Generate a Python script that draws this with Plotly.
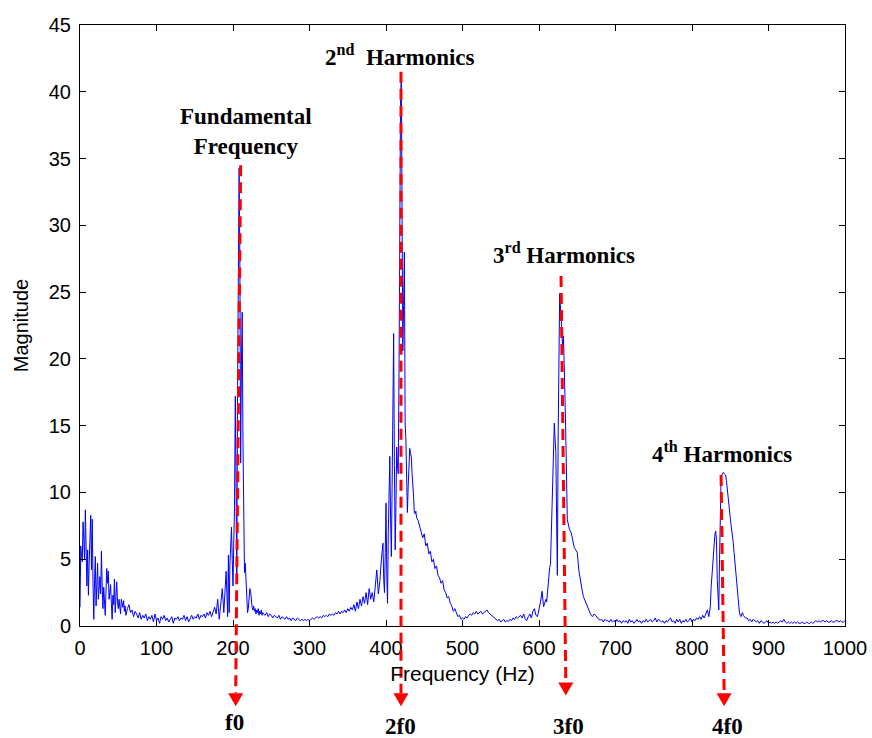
import plotly.graph_objects as go

# ---------------- data ----------------
# spectrum segments: (start frequency Hz, bin step Hz, magnitudes)
seg1_start, seg1_step = 0, 1
seg1_mag = [1.4, 6.0, 5.2, 4.8, 7.8, 5.6, 5.0, 8.7, 4.5, 3.0, 5.7, 2.3, 4.7, 6.5, 8.3, 4.2, 8.0, 3.2, 0.5, 3.4,
            5.2, 1.5, 2.6, 4.7, 2.0, 2.9, 3.7, 2.4, 5.6, 3.0, 1.3, 2.9, 1.9, 0.8, 2.6, 4.3, 3.2, 4.1, 2.0, 2.6,
            3.1, 1.7, 0.5, 2.3, 1.6, 3.5, 1.0, 2.2, 3.3, 1.8, 1.3, 2.0, 1.5, 0.9, 2.0, 1.6, 1.4, 1.9, 1.1, 1.5,
            0.8]
seg2_start, seg2_step = 62, 2
seg2_mag = [1.3, 1.6, 1.0, 1.2, 0.7, 1.1, 0.9, 0.6, 1.0, 0.5, 0.8, 0.6, 0.9, 0.4, 0.7, 0.5, 0.8, 0.3, 0.9, 0.4,
            0.6, 0.2, 0.7, 0.5, 0.8, 0.4, 0.6, 0.3, 0.5, 0.7, 0.2, 0.6, 0.5, 0.7, 0.4, 0.6, 0.5, 0.8, 0.4, 0.7,
            0.3, 0.6, 0.8, 0.5, 0.7, 0.6, 0.9, 0.5, 0.8, 0.7, 0.9, 0.6, 1.0, 0.8, 1.1, 0.7, 1.0, 1.4, 0.9, 2.0,
            0.5, 2.0, 2.8, 1.0, 2.9]
seg3_start, seg3_step = 191, 1
seg3_mag = [4.1, 2.5, 0.7, 5.3, 1.0, 4.7, 7.3, 7.4, 5.0, 3.0, 6.2, 9.0, 17.2, 8.0, 3.5, 18.0, 29.0, 34.3, 27.0, 12.2,
            19.5, 23.5, 14.0, 7.5, 4.0, 4.7, 3.0, 2.0, 1.0, 1.3, 2.2, 2.8, 2.6, 1.6, 1.4, 1.2, 1.5, 1.1, 1.3, 0.9,
            1.2, 1.0, 1.3, 0.8, 1.1, 0.9, 1.2, 0.8, 1.0, 0.9]
seg4_start, seg4_step = 242, 2
seg4_mag = [0.8, 1.0, 0.7, 0.9, 0.8, 0.6, 0.8, 0.7, 0.6, 0.8, 0.5, 0.7, 0.6, 0.5, 0.7, 0.5, 0.6, 0.4, 0.6, 0.5,
            0.4, 0.6, 0.5, 0.4, 0.5, 0.4, 0.5, 0.4, 0.5, 0.4, 0.5, 0.6, 0.5, 0.6, 0.7, 0.6, 0.7, 0.6, 0.8, 0.7,
            0.8, 0.7, 0.9, 0.8, 0.9, 0.8, 1.0, 0.9, 1.1, 0.9, 1.1, 1.0, 1.2, 1.0, 1.3, 1.1, 1.4, 1.2, 1.6, 1.1,
            1.8, 1.3, 2.0, 1.5, 2.2, 1.7, 2.5, 1.6, 2.8, 2.0, 2.5, 1.8, 3.0, 4.2, 2.4, 3.4, 5.0, 6.2]
seg5_start, seg5_step = 397, 1
seg5_mag = [3.5, 2.5, 5.5, 9.2, 4.0, 1.7, 7.0, 11.0, 12.7, 8.0, 5.2, 10.4, 16.0, 21.9, 12.0, 5.7, 9.0, 13.4, 12.0, 11.4,
            19.0, 31.0, 39.0, 41.3, 33.0, 20.6, 24.0, 28.0, 15.2, 14.0, 11.0, 8.5, 10.5, 12.5, 13.3, 12.9, 12.7, 11.5, 10.8, 9.8,
            8.5, 8.4, 8.6, 8.1]
seg6_start, seg6_step = 442, 2
seg6_mag = [7.9, 7.4, 7.1, 6.6, 6.9, 6.0, 6.2, 5.4, 5.6, 4.8, 5.0, 4.3, 4.5, 3.8, 3.6, 3.2, 3.4, 2.7, 2.5, 2.1,
            2.2, 1.7, 1.5, 1.1, 1.3, 0.9, 0.7, 0.8, 0.5, 0.6, 0.5, 0.7, 0.6, 0.8, 0.9, 0.8, 1.0, 0.9, 1.1, 0.9,
            1.0, 1.1, 0.9, 1.0, 1.1, 1.2, 1.0, 0.9, 0.8, 0.7, 0.6, 0.5, 0.4, 0.5, 0.3, 0.4, 0.5, 0.3, 0.4, 0.35,
            0.5, 0.4, 0.6, 0.5, 0.7, 0.6, 0.7, 0.8, 0.6, 0.9, 0.5, 0.4, 0.7, 0.9, 0.6, 1.1, 1.3, 0.8, 0.7, 1.2,
            1.8, 2.6, 1.45, 1.8]
seg7_start, seg7_step = 609, 1
seg7_mag = [2.0, 1.8, 2.5, 3.3, 4.2, 4.4, 4.6, 6.5, 9.4, 12.0, 14.0, 15.2, 14.0, 13.0, 8.0, 3.8, 14.0, 22.0, 24.9, 24.0,
            22.5, 21.0, 20.7, 21.7, 20.0, 17.0, 14.4, 10.0, 8.0, 7.7, 7.4, 7.2]
seg8_start, seg8_step = 642, 2
seg8_mag = [7.0, 6.3, 5.9, 5.7, 5.5, 4.2, 3.4, 2.8, 2.2, 1.9, 1.6, 1.3, 1.1, 0.8, 0.7, 0.9, 0.8, 0.6, 0.5, 0.45,
            0.5, 0.3, 0.5, 0.4, 0.4, 0.3, 0.5, 0.3, 0.4, 0.3, 0.5, 0.3, 0.4, 0.2, 0.4, 0.3, 0.4, 0.2, 0.5, 0.3,
            0.4, 0.2, 0.3, 0.5, 0.3, 0.4, 0.2, 0.4, 0.3, 0.5, 0.3, 0.4, 0.5, 0.3, 0.4, 0.6, 0.3, 0.5, 0.4, 0.3,
            0.4, 0.2, 0.4, 0.3, 0.5, 0.6, 0.3, 0.4, 0.2, 0.5, 0.3, 0.5, 0.2, 0.4, 0.3, 0.5, 0.3, 0.4, 0.6, 0.3,
            0.5, 0.4, 0.6, 0.5, 0.7, 0.5, 0.8, 0.6, 0.9, 1.2, 0.7, 1.5]
seg9_start, seg9_step = 825, 1
seg9_mag = [2.9, 3.8, 4.6, 5.2, 6.2, 6.9, 7.1, 6.4, 3.5, 1.45, 1.2, 5.0, 10.4, 11.0, 11.3, 11.5, 11.5, 11.4, 11.3, 11.3,
            10.9, 10.2, 9.7, 9.2, 8.5, 8.1, 7.6, 7.2, 7.0, 6.2, 5.5, 4.9, 4.0, 3.4, 2.9, 2.0, 1.3, 1.0, 0.8, 0.7,
            0.9, 1.0, 0.8, 0.7, 0.6, 0.6]
seg10_start, seg10_step = 872, 2
seg10_mag = [0.6, 0.4, 0.5, 0.3, 0.5, 0.4, 0.3, 0.4, 0.2, 0.4, 0.3, 0.2, 0.3, 0.4, 0.2, 0.3, 0.2, 0.3, 0.2, 0.3,
             0.2, 0.3, 0.4, 0.3, 0.5, 0.3, 0.2, 0.3, 0.2, 0.3, 0.2, 0.3, 0.2, 0.3, 0.2, 0.2, 0.3, 0.2, 0.2, 0.3,
             0.2, 0.2, 0.3, 0.2, 0.3, 0.4, 0.3, 0.4, 0.3, 0.4, 0.4, 0.3, 0.4, 0.3, 0.3, 0.4, 0.3, 0.3, 0.4, 0.4,
             0.3, 0.4, 0.3, 0.3, 0.4]

segments = [(seg1_start, seg1_step, seg1_mag), (seg2_start, seg2_step, seg2_mag),
            (seg3_start, seg3_step, seg3_mag), (seg4_start, seg4_step, seg4_mag),
            (seg5_start, seg5_step, seg5_mag), (seg6_start, seg6_step, seg6_mag),
            (seg7_start, seg7_step, seg7_mag), (seg8_start, seg8_step, seg8_mag),
            (seg9_start, seg9_step, seg9_mag), (seg10_start, seg10_step, seg10_mag)]

frequency, magnitude = [], []
for start, step, mags in segments:
    frequency += [start + step * i for i in range(len(mags))]
    magnitude += mags

# harmonic markers (red dashed arrows): top of arrow and arrow tip (below the axis)
arrow_top_freq = [210, 419.6, 628.8, 838]
arrow_top_mag = [34.5, 41.5, 26.2, 11.3]
arrow_tip_freq = [203.5, 419.6, 635, 842]
arrow_tip_mag = [-6.0, -6.0, -5.2, -6.0]
arrow_labels = ["f0", "2f0", "3f0", "4f0"]
arrow_label_freq = [202.6, 419.6, 638, 847]
arrow_label_mag = [-7.2, -7.56, -7.56, -7.56]

peak_labels = ["Fundamental<br>Frequency", "2<sup>nd</sup>&nbsp; Harmonics",
               "3<sup>rd</sup> Harmonics", "4<sup>th</sup> Harmonics"]
peak_label_freq = [217, 418, 632.7, 839]
peak_label_mag = [37.0, 42.75, 27.9, 13.0]

x_ticks = list(range(0, 1001, 100))
y_ticks = list(range(0, 46, 5))
x_range = [0, 1000]
y_range = [0, 45]

# ---------------- figure ----------------
W, H = 872, 738
ML, MR, MT, MB = 80, 27, 25, 112
plot_w = W - ML - MR
plot_h = H - MT - MB

fig = go.Figure()
fig.add_trace(go.Scatter(x=frequency, y=magnitude, mode="lines",
                         line=dict(color="#0000ff", width=1), hoverinfo="skip",
                         showlegend=False))


def px(f):
    return (f - x_range[0]) / (x_range[1] - x_range[0])


def py(m):
    return (m - y_range[0]) / (y_range[1] - y_range[0])


tri_half_w = 7.5 / plot_w
tri_h = 13.0 / plot_h
shapes = []
for ft, mt, fb, mb in zip(arrow_top_freq, arrow_top_mag, arrow_tip_freq, arrow_tip_mag):
    x0, y0 = px(ft), py(mt)
    x1, y1 = px(fb), py(mb)
    # dashed line ending at the base of the arrow head
    shapes.append(dict(type="line", xref="paper", yref="paper",
                       x0=x0, y0=y0, x1=x1, y1=y1 + tri_h,
                       line=dict(color="#ff0000", width=3, dash="11px,6px"), layer="above"))
    path = (f"M {x1 - tri_half_w} {y1 + tri_h} L {x1 + tri_half_w} {y1 + tri_h} "
            f"L {x1} {y1} Z")
    shapes.append(dict(type="path", xref="paper", yref="paper", path=path,
                       fillcolor="#ff0000", line=dict(color="#ff0000", width=0), layer="above"))

annotations = []
serif = "Liberation Serif, Times New Roman, serif"
for txt, f, m in zip(peak_labels, peak_label_freq, peak_label_mag):
    annotations.append(dict(text=f"<b>{txt}</b>", x=f, y=m, xref="x", yref="y",
                            showarrow=False, xanchor="center", yanchor="middle",
                            font=dict(family=serif, size=23, color="black")))
for txt, f, m in zip(arrow_labels, arrow_label_freq, arrow_label_mag):
    # below the axis range -> place in paper coordinates so it is not hidden
    annotations.append(dict(text=f"<b>{txt}</b>", x=px(f), y=py(m), xref="paper", yref="paper",
                            showarrow=False, xanchor="center", yanchor="middle",
                            font=dict(family=serif, size=23, color="black")))

sans = "Liberation Sans, Arial, sans-serif"
axis_common = dict(showline=True, linecolor="black", linewidth=1, mirror="ticks",
                   ticks="inside", ticklen=6, tickcolor="black", tickwidth=1,
                   showgrid=False, zeroline=False, automargin=False,
                   tickfont=dict(family=sans, size=20, color="black"))

fig.update_layout(
    width=W, height=H, autosize=False,
    margin=dict(l=ML, r=MR, t=MT, b=MB, pad=0),
    paper_bgcolor="white", plot_bgcolor="white",
    xaxis=dict(range=x_range, tickvals=x_ticks, ticktext=[str(v) for v in x_ticks],
               title=dict(text="Frequency (Hz)", font=dict(family=sans, size=21, color="black"),
                          standoff=8),
               ticklabelstandoff=4, **axis_common),
    yaxis=dict(range=y_range, tickvals=y_ticks, ticktext=[str(v) for v in y_ticks],
               title=dict(text="Magnitude", font=dict(family=sans, size=20, color="black"),
                          standoff=14),
               ticklabelstandoff=4, **axis_common),
    shapes=shapes, annotations=annotations,
)

fig.write_html("out.html")
